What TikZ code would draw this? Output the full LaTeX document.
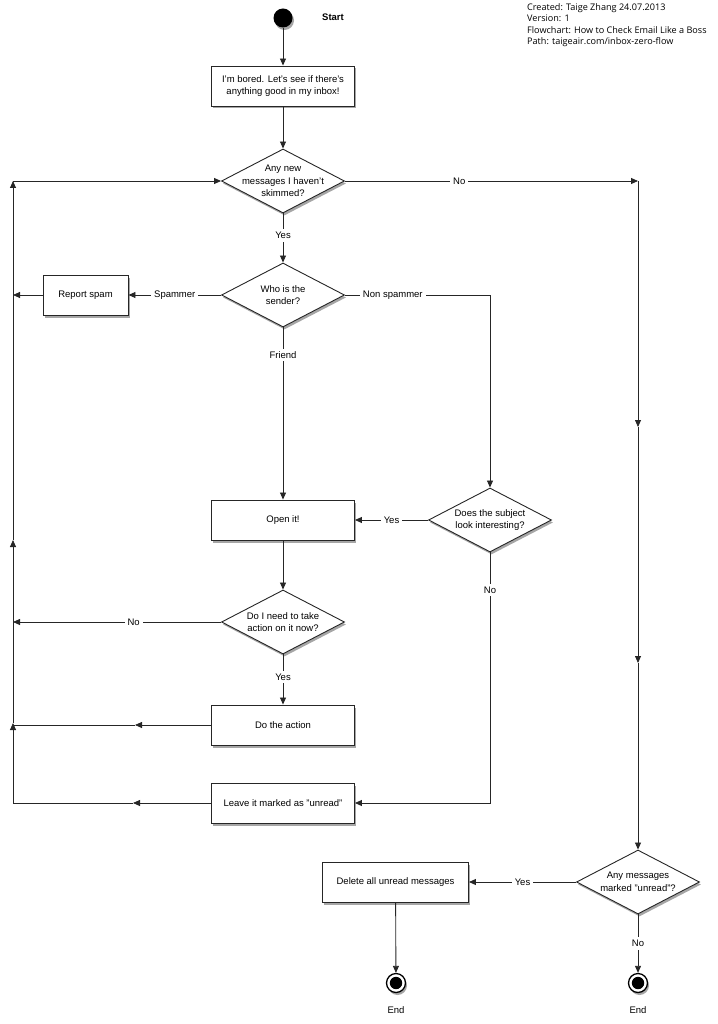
\documentclass[tikz,border=0pt]{standalone}
\usepackage{fontspec}
\setmainfont{Liberation Sans}
\newfontfamily\hdrfont{Open Sans}
\usetikzlibrary{shapes.geometric,arrows.meta,shadows}
\begin{document}
\begin{tikzpicture}[x=1pt,y=-1pt,
  font=\fontsize{9.5}{11.5}\selectfont,
  line/.style={draw=black!85, line width=0.85pt},
  arr/.style={line, -{Triangle[length=7pt,width=6pt]}},
  shad/.style={drop shadow={shadow xshift=1.5pt, shadow yshift=-2.5pt, opacity=0.35, fill=black}},
  box/.style={draw=black!85, line width=0.9pt, fill=white, minimum width=143pt, minimum height=40pt, align=center, inner sep=2pt, shad},
  dia/.style={diamond, draw=black!85, line width=0.9pt, fill=white, minimum width=123pt, minimum height=64pt, inner sep=0pt, shad},
  dtext/.style={align=center, font=\fontsize{9.5}{12.5}\selectfont},
  lbl/.style={fill=white, inner sep=3pt},
  endc/.style={circle, draw=black, line width=1.3pt, fill=white, minimum size=19pt, inner sep=0pt, shad,
    path picture={\fill[black] (path picture bounding box.center) circle (6.2pt);}},
]
\useasboundingbox (0,0) rectangle (717,1024);

% header
\node[anchor=north west, align=left, inner sep=0pt, font=\hdrfont\fontsize{9.1}{11.6}\selectfont] (hdr) at (527,3)
  {Created: Taige Zhang 24.07.2013\\Version: 1\\Flowchart: How to Check Email Like a Boss\\Path: taigeair.com/inbox-zero-flow};

% nodes
\node[circle, fill=black, minimum size=19pt, inner sep=0pt, shad] (start) at (283,18) {};
\node[font=\bfseries\fontsize{9.5}{11}\selectfont] (startl) at (333,17) {Start};
\node[box] (b1) at (283,86) {I'm bored. Let's see if there's\\anything good in my inbox!};
\node[dia] (d1) at (283,181) {};
\node[dtext] (d1t) at (283,181) {Any new\\messages I haven't\\skimmed?};
\node[dia] (d2) at (283,295) {};
\node[dtext] (d2t) at (283,295) {Who is the\\sender?};
\node[box, minimum width=85pt, minimum height=40pt] (spam) at (85.5,295) {Report spam};
\node[dia] (d3) at (490,520) {};
\node[dtext] (d3t) at (490,520) {Does the subject\\look interesting?};
\node[box] (open) at (283,520) {Open it!};
\node[dia] (d4) at (283,622) {};
\node[dtext] (d4t) at (283,622) {Do I need to take\\action on it now?};
\node[box] (act) at (283,725) {Do the action};
\node[box] (leave) at (283,803) {Leave it marked as "unread"};
\node[dia] (d5) at (638,882) {};
\node[dtext] (d5t) at (638,882) {Any messages\\marked "unread"?};
\node[box, minimum width=146pt] (del) at (395.5,882) {Delete all unread messages};
\node[endc] (end1) at (396,983) {};
\node (end1l) at (396,1010) {End};
\node[endc] (end2) at (638,983) {};
\node (end2l) at (638,1010) {End};

% coordinates
\coordinate (rc1) at (638,181);
\coordinate (rc2) at (638,427);
\coordinate (rc3) at (638,663);
\coordinate (lcs) at (13,295);
\coordinate (ns1) at (490,295);
\coordinate (nl1) at (490,803);
\coordinate (lcn) at (13,622);
\coordinate (am) at (135,725);
\coordinate (lca) at (13,725);
\coordinate (lm) at (133,803);
\coordinate (lc1) at (13,803);
\coordinate (lu1) at (13,723);
\coordinate (lu2) at (13,540);
\coordinate (lu3) at (13,181);

% connectors
\draw[arr] (start) -- (b1);
\draw[arr] (b1) -- (d1);
\draw[arr] (d1.east) -- node[lbl, pos=0.39] {No} (rc1);
\draw[arr] (rc1) -- (rc2);
\draw[arr] (rc2) -- (rc3);
\draw[arr] (rc3) -- (d5);
\draw[arr] (d1) -- node[lbl, pos=0.45] {Yes} (d2);
\draw[arr] (d2.west) -- node[lbl] {Spammer} (spam);
\draw[arr] (spam) -- (lcs);
\draw[arr] (d2.east) -- node[lbl, pos=0.33] {Non spammer} (ns1) -- (d3);
\draw[arr] (d2) -- node[lbl, pos=0.16] {Friend} (open);
\draw[arr] (d3.west) -- node[lbl] {Yes} (open.east);
\draw[arr] (d3.south) -- node[lbl, pos=0.15] {No} (nl1) -- (leave.east);
\draw[arr] (open) -- (d4);
\draw[arr] (d4.west) -- node[lbl, pos=0.42] {No} (lcn);
\draw[arr] (d4) -- node[lbl, pos=0.45] {Yes} (act);
\draw[arr] (act.west) -- (am);
\draw[line] (am) -- (lca);
\draw[arr] (leave.west) -- (lm);
\draw[line] (lm) -- (lc1);
\draw[arr] (lc1) -- (lu1);
\draw[arr] (lu1) -- (lu2);
\draw[arr] (lu2) -- (lu3);
\draw[arr] (lu3) -- (d1.west);
\draw[arr] (d5.west) -- node[lbl] {Yes} (del);
\draw[arr] (del) -- (end1);
\draw[arr] (d5) -- node[lbl] {No} (end2);
\end{tikzpicture}
\end{document}
